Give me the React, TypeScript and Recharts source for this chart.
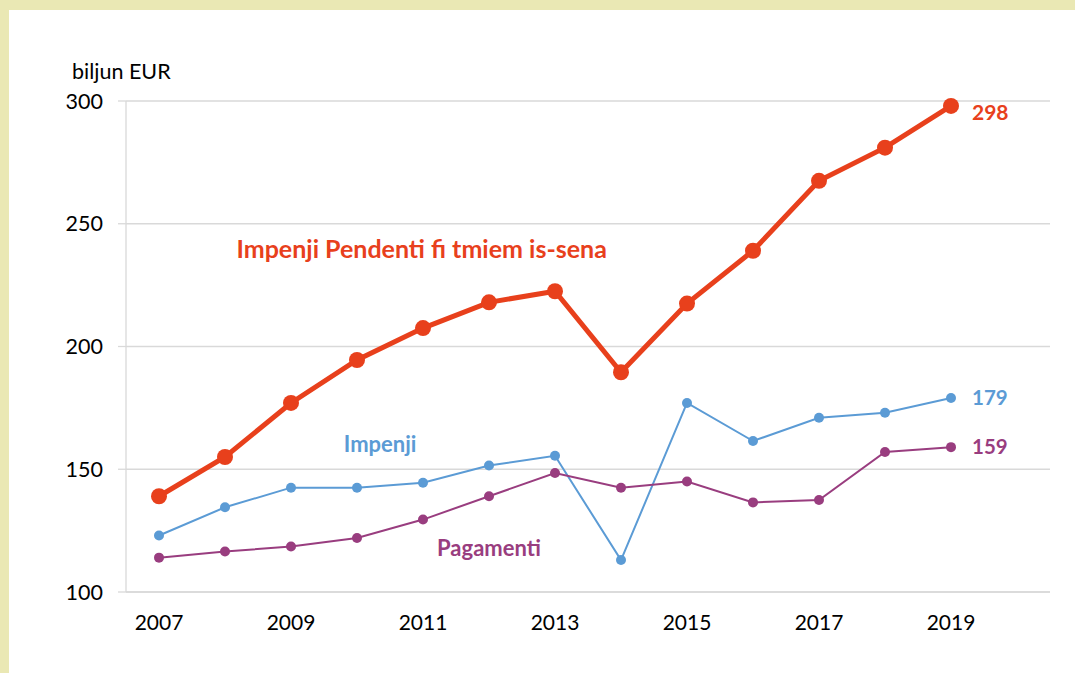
import { LineChart, Line, XAxis, YAxis, CartesianGrid, ReferenceDot, LabelList } from 'recharts'

const years = [2007, 2008, 2009, 2010, 2011, 2012, 2013, 2014, 2015, 2016, 2017, 2018, 2019]
const pendenti = [139, 155, 177, 194.5, 207.5, 218, 222.5, 189.5, 217.5, 239, 267.5, 281, 298]
const impenji = [123, 134.5, 142.5, 142.5, 144.5, 151.5, 155.5, 113, 177, 161.5, 171, 173, 179]
const pagamenti = [114, 116.5, 118.5, 122, 129.5, 139, 148.5, 142.5, 145, 136.5, 137.5, 157, 159]
const xTicks = [2007, 2009, 2011, 2013, 2015, 2017, 2019]
const yTicks = [100, 150, 200, 250, 300]

const RED = '#E8401C'
const BLUE = '#5B9BD5'
const PURPLE = '#993D7F'
const GRID = '#D9D9D9'
const FONT = 'Lato, "Noto Sans", sans-serif'

const data = years.map((y, i) => ({
  year: y,
  pendenti: pendenti[i],
  impenji: impenji[i],
  pagamenti: pagamenti[i],
}))

const endLabel = (color: string, size: number, shift: number) => (props: any) => {
  const { x, y, value, index } = props
  if (index !== years.length - 1) return null
  return (
    <text x={x + 21} y={y + shift} dy={size * 0.35} fill={color} fontSize={size} fontWeight={700} fontFamily={FONT}>
      {Math.round(value)}
    </text>
  )
}

const seriesLabel = (text: string, color: string, size: number) => (props: any) => {
  const { viewBox } = props
  return (
    <text x={viewBox.x} y={viewBox.y} dy={size * 0.35} textAnchor="middle" fill={color} fontSize={size} fontWeight={700} fontFamily={FONT}>
      {text}
    </text>
  )
}

export default function App() {
  return (
    <div style={{ position: 'absolute', left: 0, top: 0, width: 1075, height: 673, background: '#EAE8B4' }}>
      <div style={{ position: 'absolute', left: 9, top: 10, width: 1066, height: 663, background: '#fff' }}>
        <div style={{ position: 'absolute', left: 63, top: 48, fontFamily: FONT, fontSize: 21.5, color: '#000' }}>biljun EUR</div>
        <LineChart width={1066} height={663} data={data} margin={{ top: 91, right: 25, bottom: 51, left: 57 }}>
          <CartesianGrid horizontal vertical={false} stroke={GRID} strokeWidth={1.3} />
          <XAxis
            dataKey="year"
            type="number"
            domain={[2006.5, 2020.5]}
            ticks={xTicks}
            interval={0}
            tickLine={false}
            tickSize={0}
            tickMargin={23}
            height={30}
            axisLine={{ stroke: GRID, strokeWidth: 1.3 }}
            tick={{ fontSize: 21, fill: '#000', fontFamily: FONT }}
          />
          <YAxis
            type="number"
            domain={[100, 300]}
            ticks={yTicks}
            interval={0}
            width={60}
            tickSize={8}
            tickMargin={15}
            tickLine={{ stroke: GRID, strokeWidth: 1.3 }}
            axisLine={{ stroke: GRID, strokeWidth: 1.3 }}
            tick={{ fontSize: 21.5, fill: '#000', fontFamily: FONT }}
          />
          <Line
            dataKey="impenji"
            stroke={BLUE}
            strokeWidth={2}
            dot={{ r: 5, fill: BLUE, stroke: BLUE, strokeWidth: 0 }}
            isAnimationActive={false}
          >
            <LabelList dataKey="impenji" content={endLabel(BLUE, 20.5, 0)} />
          </Line>
          <Line
            dataKey="pagamenti"
            stroke={PURPLE}
            strokeWidth={2}
            dot={{ r: 5, fill: PURPLE, stroke: PURPLE, strokeWidth: 0 }}
            isAnimationActive={false}
          >
            <LabelList dataKey="pagamenti" content={endLabel(PURPLE, 20.5, 0)} />
          </Line>
          <Line
            dataKey="pendenti"
            stroke={RED}
            strokeWidth={5}
            dot={{ r: 8, fill: RED, stroke: RED, strokeWidth: 0 }}
            isAnimationActive={false}
          >
            <LabelList dataKey="pendenti" content={endLabel(RED, 21, 7)} />
          </Line>
          <ReferenceDot x={2010.98} y={239.5} r={0} label={seriesLabel('Impenji Pendenti fi tmiem is-sena', RED, 25)} />
          <ReferenceDot x={2010.35} y={160} r={0} label={seriesLabel('Impenji', BLUE, 22)} />
          <ReferenceDot x={2012.0} y={118} r={0} label={seriesLabel('Pagamenti', PURPLE, 22)} />
        </LineChart>
      </div>
    </div>
  )
}
